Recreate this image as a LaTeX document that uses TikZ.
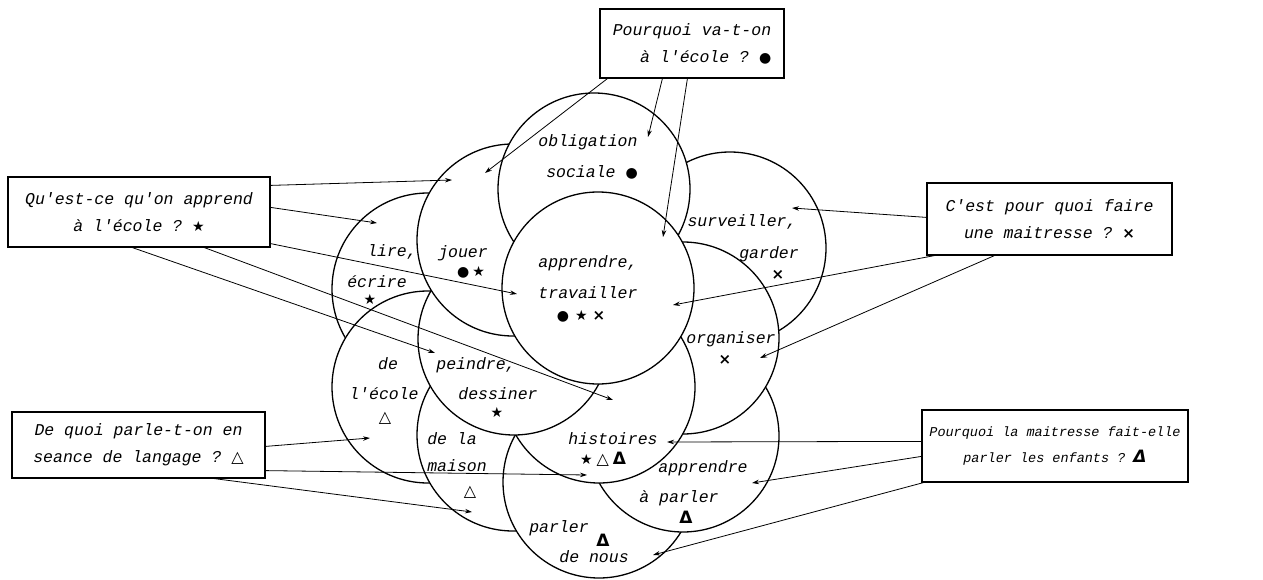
\documentclass[tikz,border=0pt]{standalone}
\usepackage{fontspec}
\setmonofont{Liberation Mono}
\newfontfamily\symf{DejaVu Sans}
\usetikzlibrary{arrows.meta,calc}
\newcommand\dotS{{\symf\fontsize{14}{14}\selectfont ●}}
\newcommand\starS{{\symf\fontsize{14}{14}\selectfont ★}}
\newcommand\crossS{{\symf\bfseries\fontsize{15}{15}\selectfont ×}}
\newcommand\triS{{\symf\fontsize{16}{16}\selectfont △}}
\newcommand\DeltaS{{\symf\bfseries\fontsize{17}{17}\selectfont Δ}}
\begin{document}
\begin{tikzpicture}[x=1pt,y=-1pt,
 bubble/.style={circle,draw,fill=white,line width=1.3pt,minimum size=192pt,inner sep=0pt},
 lbl/.style={font=\ttfamily\itshape\fontsize{16.5}{18}\selectfont,inner sep=0pt,anchor=base},
 sym/.style={inner sep=0pt,anchor=center},
 qbox/.style={draw,line width=1.2pt,fill=white,inner sep=0pt,
   font=\ttfamily\itshape\fontsize{16.5}{27}\selectfont},
 link/.style={line width=0.8pt,-{Stealth[length=7pt,width=4.5pt]}},
]
\useasboundingbox (0,0) rectangle (1263,580);
% circles, bottom to top
\node[bubble] (lire) at (428,289) {};
\node[bubble] (ecole) at (428,387) {};
\node[bubble] (maison) at (513,435) {};
\node[bubble] (parler) at (599,482) {};
\node[bubble] (aparler) at (683,436) {};
\node[bubble] (surv) at (730,248) {};
\node[bubble] (organ) at (683,338) {};
\node[bubble] (hist) at (599,387) {};
\node[bubble] (peindre) at (514,339) {};
\node[bubble] (jouer) at (513,240) {};
\node[bubble] (oblig) at (594,189) {};
\node[bubble] (appr) at (598,288) {};

% question boxes
\node[qbox,align=right,minimum width=184pt,minimum height=69pt] (q1) at (692,43.5)
  {Pourquoi va-t-on\\à l'école ? \dotS};
\node[qbox,align=center,minimum width=262pt,minimum height=70pt] (q2) at (139,212)
  {Qu'est-ce qu'on apprend\\à l'école ? \starS};
\node[qbox,align=center,minimum width=245pt,minimum height=72pt] (q3) at (1049.5,219)
  {C'est pour quoi faire\\ une maitresse ? \crossS};
\node[qbox,align=center,minimum width=253pt,minimum height=66pt] (q4) at (138.5,445)
  {De quoi parle-t-on en\\ seance de langage ? \triS};
\node[qbox,align=center,minimum width=266pt,minimum height=72pt,
  font=\ttfamily\itshape\fontsize{13.5}{26}\selectfont] (q5) at (1055,446)
  {Pourquoi la maitresse fait-elle\\ parler les enfants ? \DeltaS};

% arrow targets
\coordinate (t1) at (485,173);
\coordinate (t2) at (648,137);
\coordinate (t3) at (663,237);
\coordinate (t4) at (452,180);
\coordinate (t5) at (377,223);
\coordinate (t6) at (517,294);
\coordinate (t7) at (435,353);
\coordinate (t8) at (613,400);
\coordinate (t9) at (370,438);
\coordinate (t10) at (587,475);
\coordinate (t11) at (472,512);
\coordinate (t12) at (792,208);
\coordinate (t13) at (673,305);
\coordinate (t14) at (760,358);
\coordinate (t15) at (667,442);
\coordinate (t16) at (752,483);
\coordinate (t17) at (653,555);

% arrows
\draw[link] ($(q1.south west)+(8,0)$) -- (t1);
\draw[link] ($(q1.south west)+(63,0)$) -- (t2);
\draw[link] ($(q1.south west)+(88,0)$) -- (t3);
\draw[link] ($(q2.north east)+(0,9)$) -- (t4);
\draw[link] ($(q2.north east)+(0,31)$) -- (t5);
\draw[link] ($(q2.south east)+(0,-4)$) -- (t6);
\draw[link] ($(q2.south west)+(125,0)$) -- (t7);
\draw[link] ($(q2.south west)+(197,0)$) -- (t8);
\draw[link] ($(q4.north east)+(0,35)$) -- (t9);
\draw[link] ($(q4.south east)+(0,-8)$) -- (t10);
\draw[link] ($(q4.south west)+(203,0)$) -- (t11);
\draw[link] ($(q3.north west)+(0,35)$) -- (t12);
\draw[link] ($(q3.south west)+(8,0)$) -- (t13);
\draw[link] ($(q3.south west)+(68,0)$) -- (t14);
\draw[link] ($(q5.north west)+(0,32)$) -- (t15);
\draw[link] ($(q5.north west)+(0,47)$) -- (t16);
\draw[link] ($(q5.south west)+(2,0)$) -- (t17);

% labels
\node[lbl] (l1) at (588,147) {obligation};
\node[lbl] (l2) at (592,178) {sociale \dotS};
\node[lbl] (l3) at (463,257) {jouer};
\node[sym] (l4) at (471,272) {\dotS\hspace{3pt}\starS};
\node[lbl] (l5) at (392,256) {lire,};
\node[lbl] (l6) at (377,287) {écrire};
\node[sym] (l7) at (370,299) {\starS};
\node[lbl] (l8) at (588,267) {apprendre,};
\node[lbl] (l9) at (588,298) {travailler};
\node[sym] (l10) at (581,316) {\dotS\hspace{6pt}\starS\hspace{5pt}\crossS};
\node[lbl] (l11) at (388,369) {de};
\node[lbl] (l12) at (384,399) {l'école};
\node[sym] (l13) at (385,418) {\triS};
\node[lbl] (l14) at (476,369) {peindre,};
\node[lbl] (l15) at (498,399) {dessiner};
\node[sym] (l16) at (497,412) {\starS};
\node[lbl] (l17) at (452,444) {de la};
\node[lbl] (l18) at (457,471) {maison};
\node[sym] (l19) at (470,492) {\triS};
\node[lbl] (l20) at (613,444) {histoires};
\node[sym] (l21) at (603,459) {\starS\hspace{4pt}\triS\hspace{4pt}\DeltaS};
\node[lbl] (l22) at (559,532) {parler};
\node[sym] (l23) at (603,540) {\DeltaS};
\node[lbl] (l24) at (594,562) {de nous};
\node[lbl] (l25) at (703,472) {apprendre};
\node[lbl] (l26) at (679,502) {à parler};
\node[sym] (l27) at (686,517) {\DeltaS};
\node[lbl] (l28) at (742,226) {surveiller,};
\node[lbl] (l29) at (769,258) {garder};
\node[sym] (l30) at (778,275) {\crossS};
\node[lbl] (l31) at (731,343) {organiser};
\node[sym] (l32) at (725,360) {\crossS};
\end{tikzpicture}
\end{document}
